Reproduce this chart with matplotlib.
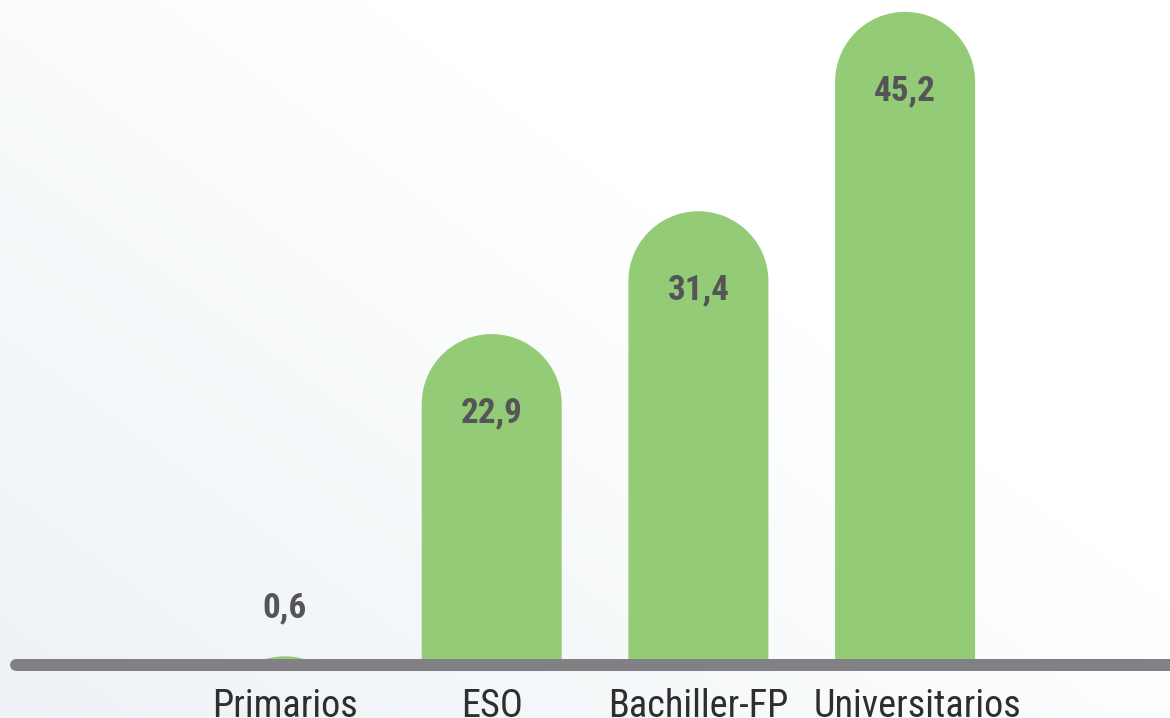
import numpy as np
import matplotlib
matplotlib.use("Agg")
import matplotlib.pyplot as plt
from matplotlib.patches import Polygon

categories = ["Primarios", "ESO", "Bachiller-FP", "Universitarios"]
values = [0.6, 22.9, 31.4, 45.2]
value_labels = ["0,6", "22,9", "31,4", "45,2"]

W, H, DPI = 1170, 718, 100
fig = plt.figure(figsize=(W / DPI, H / DPI), dpi=DPI)

# background gradient (bottom-left light blue-grey -> top-right white)
bg = fig.add_axes([0, 0, 1, 1], zorder=0)
yy, xx = np.mgrid[0:H, 0:W]  # yy=0 is top row (origin upper)
d = (xx / W) * 0.55 + ((H - 1 - yy) / H) * 0.45
t = np.clip(d / 0.62, 0, 1)
c0 = np.array([0xEC, 0xF2, 0xF5]) / 255.0
c1 = np.array([1.0, 1.0, 1.0])
img = c0[None, None, :] * (1 - t[..., None]) + c1[None, None, :] * t[..., None]
bg.imshow(img, extent=[0, 1, 0, 1], aspect="auto", origin="upper")
bg.axis("off")

ax = fig.add_axes([0, 0, 1, 1], zorder=1)
ax.patch.set_alpha(0)

px_per_unit = 14.45
base_px = 53  # baseline from bottom
x0_px, dx_px = 285, 206.7
ax.set_ylim(-base_px / px_per_unit, (H - base_px) / px_per_unit)
ax.set_xlim(-x0_px / dx_px, (W - x0_px) / dx_px)
ax.axis("off")

bar_w_px = 140
rx = (bar_w_px / 2) / dx_px
ry = (bar_w_px / 2) / px_per_unit
green = "#93CB76"

xs = np.arange(len(categories))
for x, v in zip(xs, values):
    tt = np.linspace(0, np.pi, 120)
    cy = v - ry
    px = x + rx * np.cos(tt)
    py = cy + ry * np.sin(tt)
    pts = list(zip(px, np.clip(py, 0, None)))
    pts.append((x - rx, 0))
    pts.append((x + rx, 0))
    ax.add_patch(Polygon(pts, closed=True, facecolor=green, edgecolor="none", zorder=2))

# baseline
ax.plot([(16 - x0_px) / dx_px, (W + 40 - x0_px) / dx_px], [0, 0],
        color="#818185", lw=12 * 72 / DPI, solid_capstyle="round", zorder=3,
        clip_on=False)

fam = ["Roboto Condensed", "Roboto", "DejaVu Sans"]
txt_col = "#555558"
for x, v, lab in zip(xs, values, value_labels):
    if v * px_per_unit > 120:
        off = -79 * 72 / DPI
    else:
        off = 48 * 72 / DPI
    ax.annotate(lab, (x, v), xytext=(0, off), textcoords="offset points",
                ha="center", va="center", fontsize=25.3, fontweight="bold",
                family=fam, color=txt_col, zorder=4)

label_dx_px = [0, 0, 0, 12]
for x, c, ddx in zip(xs, categories, label_dx_px):
    ax.annotate(c, (x, 0), xytext=(ddx * 72 / DPI, -52 * 72 / DPI),
                textcoords="offset points",
                ha="center", va="baseline", fontsize=27.5, family=fam,
                color="#2e2e30", zorder=4, annotation_clip=False)

fig.savefig("out.png", dpi=DPI)
